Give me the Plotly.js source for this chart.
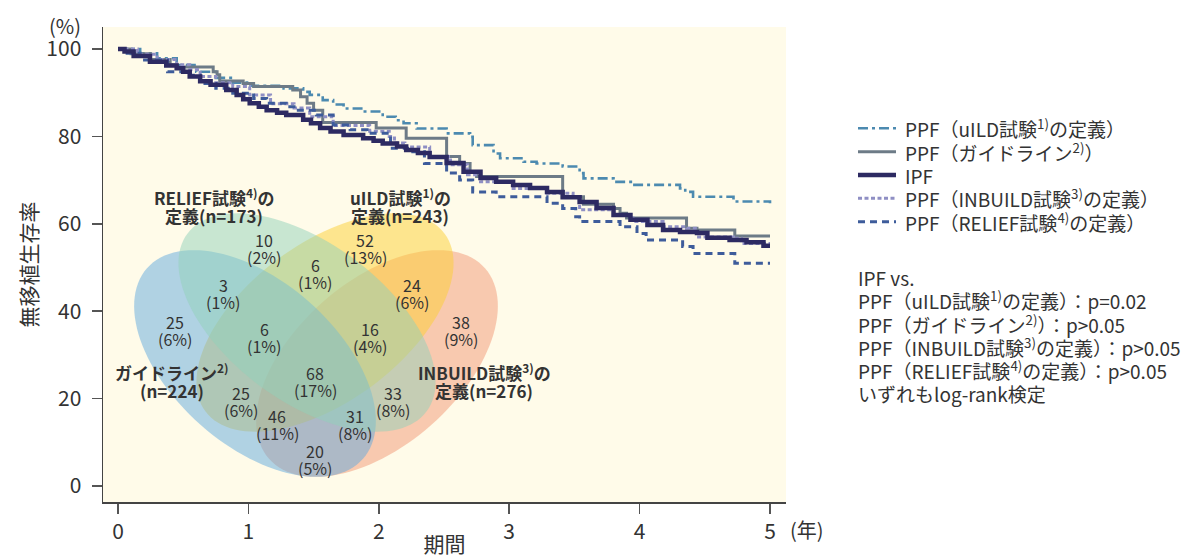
<!DOCTYPE html>
<html><head><meta charset="utf-8">
<script src="https://cdn.plot.ly/plotly-3.0.1.min.js"></script>
<style>html,body{margin:0;padding:0;background:#fff}#chart{width:1183px;height:558px}</style>
</head><body><div id="chart"></div>
<script>
// ---------------- DATA ----------------
const seriesNames = [
  'PPF（uILD試験<sup>1)</sup>の定義）',
  'PPF（ガイドライン<sup>2)</sup>）',
  'IPF',
  'PPF（INBUILD試験<sup>3)</sup>の定義）',
  'PPF（RELIEF試験<sup>4)</sup>の定義）'
];
const uildX = [0,0.17,0.30,0.45,0.60,0.75,0.88,1.00,1.27,1.42,1.47,1.57,1.65,1.73,1.88,2.03,2.13,2.19,2.29,2.52,2.70,2.72,2.88,2.93,3.11,3.21,3.41,3.54,3.57,3.80,3.95,4.31,4.35,4.41,4.72,5.0];
const uildY = [100,99.0,97.9,96.3,94.8,93.4,92.3,91.6,91.0,90.2,89.5,88.3,87.3,86.4,85.7,84.5,83.7,83.0,81.8,80.7,79.9,78.0,76.1,75.0,74.2,73.8,73.1,71.6,70.4,69.6,68.9,68.1,67.3,66.2,65.1,64.7];
const guideX = [0,0.10,0.25,0.40,0.45,0.73,0.76,0.78,0.96,1.04,1.34,1.40,1.45,1.50,1.57,1.98,2.21,2.52,2.62,2.70,2.75,3.41,3.57,3.80,3.85,3.90,4.36,4.44,4.73,5.0];
const guideY = [100,98.9,97.6,96.4,95.9,94.8,94.1,92.7,92.1,91.4,90.6,89.1,87.6,86.0,83.2,81.9,79.6,75.4,73.8,71.9,70.8,66.2,64.5,63.5,62.4,61.3,59.0,58.6,57.2,57.2];
const ipfX = [0,0.05,0.12,0.245,0.37,0.45,0.50,0.55,0.63,0.71,0.83,0.91,0.96,1.01,1.08,1.14,1.22,1.29,1.42,1.48,1.55,1.63,1.73,1.88,1.96,2.03,2.14,2.21,2.30,2.39,2.52,2.65,2.78,2.90,3.03,3.16,3.29,3.41,3.54,3.67,3.80,3.93,4.06,4.18,4.31,4.44,4.52,4.69,4.82,4.95,5.0];
const ipfY = [100,99.4,98.4,97.1,96.2,95.6,94.8,93.7,92.6,91.8,90.6,89.5,88.5,87.6,86.8,86.0,85.4,84.9,83.8,83.0,81.9,81.1,80.3,79.6,79.0,78.4,77.7,76.9,76.2,75.3,73.9,71.9,70.5,69.6,68.9,68.2,67.3,66.1,65.0,63.6,62.0,60.9,59.7,58.6,58.1,57.9,56.8,56.3,55.8,55.0,55.0];
const inbuildX = [0,0.15,0.3,0.45,0.55,0.63,0.75,0.88,1.01,1.17,1.35,1.47,1.65,1.93,2.08,2.12,2.20,2.39,2.55,2.68,2.78,3.03,3.29,3.49,3.54,3.80,3.95,4.18,4.36,4.44,4.72,4.78,5.0];
const inbuildY = [100,98.8,97.6,96.4,95.3,93.7,92.3,91.4,89.5,87.5,86.5,84.5,82.5,81.2,80.0,78.5,77.6,75.4,73.5,71.2,69.6,68.1,67.0,66.2,63.2,62.0,60.5,59.3,59.0,57.0,56.7,55.5,55.5];
const reliefX = [0,0.07,0.17,0.38,0.55,0.63,0.75,0.88,1.04,1.14,1.29,1.35,1.52,1.65,1.78,1.91,2.09,2.22,2.35,2.52,2.62,2.72,2.90,3.29,3.41,3.51,3.54,3.85,3.98,4.05,4.33,4.41,4.73,5.0];
const reliefY = [100,99.0,97.5,94.8,94.0,92.1,91.0,89.9,88.7,87.6,86.8,86.0,84.9,82.6,81.5,80.7,77.3,76.5,73.8,71.6,70.0,67.3,66.2,64.7,63.5,61.6,60.5,59.3,57.8,56.3,54.8,53.2,51.0,51.0];

const xTicks = [0,1,2,3,4,5];
const yTicks = [0,20,40,60,80,100];

// Venn diagram counts
const vennCounts = [10,52,3,6,24,25,6,16,38,68,25,46,33,31,20];
const vennPct    = [2,13,1,1,6,6,1,4,9,17,6,11,8,8,5];
const setLabels = [
  ['RELIEF試験<sup>4)</sup>の','定義(n=173)'],
  ['uILD試験<sup>1)</sup>の','定義(n=243)'],
  ['ガイドライン<sup>2)</sup>','(n=224)'],
  ['INBUILD試験<sup>3)</sup>の','定義(n=276)']
];
const statLines = [
  'IPF vs.',
  'PPF（uILD試験<sup>1)</sup>の定義）：p=0.02',
  'PPF（ガイドライン<sup>2)</sup>）：p&gt;0.05',
  'PPF（INBUILD試験<sup>3)</sup>の定義）：p&gt;0.05',
  'PPF（RELIEF試験<sup>4)</sup>の定義）：p&gt;0.05',
  'いずれもlog-rank検定'
];

// ---------------- LAYOUT HELPERS (pixel geometry) ----------------
const W = 1183, H = 558;
const L = 103, R = 786, T = 27, B = 502;
const X0 = 118, XS = 130.4, Y0 = 486, YS = 4.37;
const dX = px => (px - X0) / XS;
const dY = py => (Y0 - py) / YS;
const pX = px => (px - L) / (R - L);
const pY = py => (B - py) / (B - T);
const FONT = '"Noto Sans CJK JP", "Noto Sans", sans-serif';
const TXT = '#333333';

const regionPos = [[264,240],[365,240],[223,285],[315,265],[412,285],[175,322],[264,329],[370,329],[461,322],[315,373],[241,393],[277,416],[393,393],[355,416],[315,451]];
const setPos = [[214,197],[400,197],[172,372],[484,372]];

// ellipses: [cx, cy, a, b, angleDeg, rgba]
const ellipses = [
  [377, 363.5, 144, 82, -41.4, 'rgba(242,152,118,0.5)'], // orange INBUILD
  [325, 322.5, 149, 79, -36.6, 'rgba(251,207,52,0.5)'],  // yellow uILD
  [255, 363.5, 144, 82, 41.4, 'rgba(98,170,222,0.5)'],   // blue guideline
  [307, 322.5, 149, 79, 36.6, 'rgba(145,209,186,0.5)']   // green RELIEF
];
function ellipsePath(cx, cy, a, b, deg) {
  const th = deg * Math.PI / 180, c = Math.cos(th), s = Math.sin(th);
  let d = '';
  for (let i = 0; i <= 120; i++) {
    const t = i / 120 * 2 * Math.PI;
    const px = cx + a * Math.cos(t) * c - b * Math.sin(t) * s;
    const py = cy + a * Math.cos(t) * s + b * Math.sin(t) * c;
    d += (i === 0 ? 'M' : 'L') + dX(px).toFixed(5) + ',' + dY(py).toFixed(4);
  }
  return d + 'Z';
}
const shapes = ellipses.map(e => ({
  type: 'path', xref: 'x', yref: 'y', layer: 'below',
  path: ellipsePath(e[0], e[1], e[2], e[3], e[4]),
  fillcolor: e[5], line: {width: 0}
}));

// line styles (legend order)
const styles = [
  {color:'#4C8AB0', width:2.6, dash:'10px,4px,3px,4px'},
  {color:'#6D7B87', width:3, dash:'solid'},
  {color:'#2D2A62', width:4.5, dash:'solid'},
  {color:'#8F8FC4', width:3, dash:'4px,2.5px'},
  {color:'#3E5C9B', width:3, dash:'7px,5px'}
];

const annotations = [];
vennCounts.forEach((n, i) => {
  const [px, py] = regionPos[i];
  annotations.push({xref:'x', yref:'y', x: dX(px), y: dY(py), text: String(n), showarrow:false,
    xanchor:'center', yanchor:'middle', font:{family:FONT, size:16, color:TXT}});
  annotations.push({xref:'x', yref:'y', x: dX(px), y: dY(py + 17), text: '(' + vennPct[i] + '%)', showarrow:false,
    xanchor:'center', yanchor:'middle', font:{family:FONT, size:16, color:TXT}});
});
setLabels.forEach((lines, i) => {
  const [px, py] = setPos[i];
  lines.forEach((t, j) => annotations.push({xref:'x', yref:'y', x: dX(px), y: dY(py + 18 * j), text: '<b>' + t + '</b>',
    showarrow:false, xanchor:'center', yanchor:'middle', font:{family:FONT, size:17, color:TXT}}));
});
// legend (drawn manually for exact spacing)
const legY = [128.3, 151.7, 175, 198.3, 221.7];
seriesNames.forEach((nm, i) => {
  shapes.push({type:'line', xref:'paper', yref:'paper', x0:pX(858), x1:pX(896), y0:pY(legY[i]), y1:pY(legY[i]),
    line:{color:styles[i].color, width:styles[i].width, dash:styles[i].dash}});
  annotations.push({xref:'paper', yref:'paper', x:pX(903), y:pY(legY[i]), text:nm, showarrow:false,
    xanchor:'left', yanchor:'middle', font:{family:FONT, size:19, color:TXT}});
});
statLines.forEach((t, i) => annotations.push({xref:'paper', yref:'paper', x: pX(856), y: pY(277 + 23.3 * i), text: t,
  showarrow:false, xanchor:'left', yanchor:'middle', font:{family:FONT, size:19, color:TXT}}));
annotations.push({xref:'paper', yref:'paper', x: pX(65), y: pY(25), text:'(%)', showarrow:false,
  xanchor:'center', yanchor:'middle', font:{family:FONT, size:20, color:TXT}});
annotations.push({xref:'paper', yref:'paper', x: pX(807), y: pY(529), text:'(年)', showarrow:false,
  xanchor:'center', yanchor:'middle', font:{family:FONT, size:20, color:TXT}});

// ---------------- TRACES ----------------
function km(x, y, name, st) {
  return {x, y, name, type:'scatter', mode:'lines', line:{shape:'hv', color:st.color, width:st.width, dash:st.dash},
    showlegend:false, hoverinfo:'skip'};
}
const traces = [
  km(uildX, uildY, seriesNames[0], styles[0]),
  km(guideX, guideY, seriesNames[1], styles[1]),
  km(inbuildX, inbuildY, seriesNames[3], styles[3]),
  km(reliefX, reliefY, seriesNames[4], styles[4]),
  km(ipfX, ipfY, seriesNames[2], styles[2])
];

const axisCommon = {
  showgrid:false, zeroline:false, showline:true, linecolor:'#444', linewidth:1.5,
  ticks:'outside', ticklen:10, tickwidth:1.5, tickcolor:'#555',
  tickfont:{family:FONT, size:21, color:TXT}, fixedrange:true
};
const layout = {
  width: W, height: H,
  margin: {l: L, r: W - R, t: T, b: H - B, pad: 0},
  paper_bgcolor:'#ffffff', plot_bgcolor:'#FFFBE9',
  showlegend: false,
  xaxis: Object.assign({}, axisCommon, {range:[dX(L), dX(R)], tickvals:xTicks, ticktext:xTicks.map(String),
    title:{text:'期間', font:{family:FONT, size:21, color:TXT}, standoff:2}}),
  yaxis: Object.assign({}, axisCommon, {range:[dY(B), dY(T)], tickvals:yTicks, ticktext:yTicks.map(String),
    ticklabelstandoff:6,
    title:{text:'無移植生存率', font:{family:FONT, size:21, color:TXT}, standoff:3}}),
  shapes, annotations
};
Plotly.newPlot('chart', traces, layout, {displayModeBar:false, staticPlot:true});
</script></body></html>
